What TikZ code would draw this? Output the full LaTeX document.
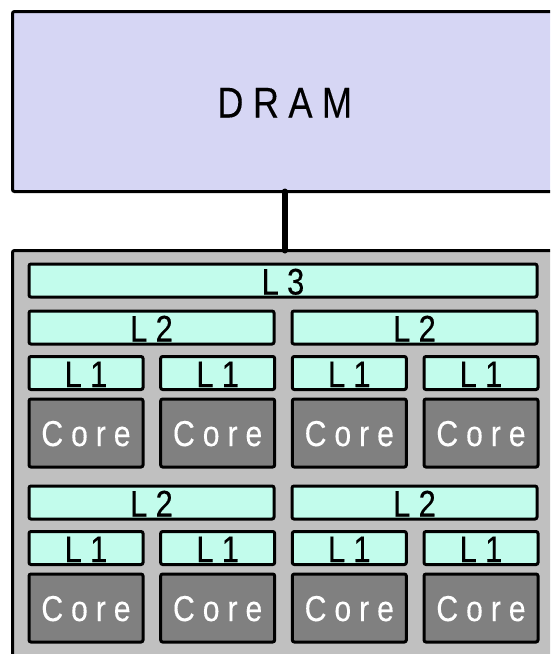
\documentclass[tikz,border=0pt]{standalone}
\usepackage{fontspec}
\newfontfamily\chipfont[FakeStretch=0.84,LetterSpace=22,FakeBold=0.2]{Liberation Sans}
\definecolor{dramfill}{RGB}{214,214,244}
\definecolor{chipfill}{RGB}{192,192,192}
\definecolor{cachefill}{RGB}{194,252,236}
\definecolor{corefill}{RGB}{128,128,128}

\begin{document}
\begin{tikzpicture}[
    x=1pt, y=-1pt,
    box/.style={draw, rectangle, line width=3pt, rounded corners=2pt,
        inner sep=0pt, outer sep=0pt, anchor=north west},
    dram box/.style={box, fill=dramfill, minimum width=544.5pt, minimum height=180pt,
        font=\chipfont\fontsize{43}{43}\selectfont, text height=32pt, text depth=0pt},
    chip box/.style={box, fill=chipfill, minimum width=544.5pt, minimum height=460pt},
    cache/.style={box, fill=cachefill, minimum height=33pt,
        font=\chipfont\fontsize{37}{37}\selectfont, text height=28pt, text depth=0pt},
    core/.style={box, fill=corefill, text=white, minimum width=114pt, minimum height=68pt,
        font=\chipfont\fontsize{36}{36}\selectfont, text height=26pt, text depth=0pt},
    bus/.style={line width=6pt, line cap=round}
]
    \useasboundingbox (0,0) rectangle (550,654);
    \clip (0,0) rectangle (550,654);

    % Memory and chip
    \node[dram box] (dram) at (12.5,11.5) {DRAM};
    \node[chip box] (chip) at (12.5,250.5) {};
    \draw[bus] (dram.south) -- (chip.north);

    % Shared last level cache
    \node[cache, minimum width=508pt] (l3) at (29,264) {L3};

    % Two rows of core pairs
    \def\rowgap{175}
    \foreach \r in {0,1}{
        \pgfmathsetmacro{\dy}{\r*\rowgap}
        \foreach \g in {0,1}{
            \pgfmathsetmacro{\lx}{29+263*\g}
            \node[cache, minimum width=245pt] (l2-\r-\g) at (\lx,311+\dy) {L2};
        }
        \foreach \c in {0,...,3}{
            \pgfmathsetmacro{\cx}{29+131.67*\c}
            \node[cache, minimum width=114pt] (l1-\r-\c) at (\cx,356.5+\dy) {L1};
            \node[core] (core-\r-\c) at (\cx,399+\dy) {Core};
        }
    }
\end{tikzpicture}
\end{document}
